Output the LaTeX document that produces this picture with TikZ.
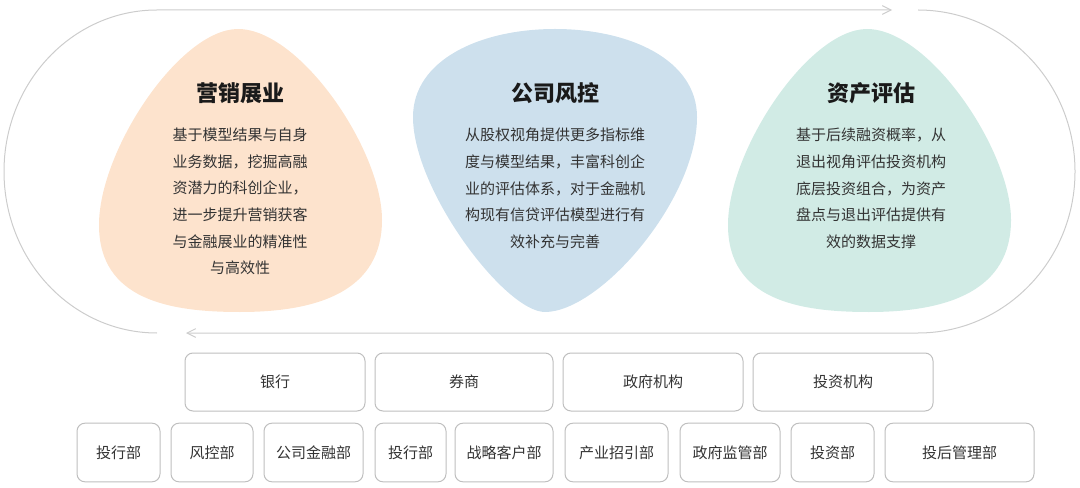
\documentclass[tikz,border=0pt]{standalone}
\usepackage{fontspec}
\newfontfamily\cjk{Noto Sans CJK SC}
\usetikzlibrary{arrows.meta}

\tikzset{
  loopline/.style={draw={rgb,255:red,204;green,204;blue,204}, line width=0.75pt},
  looptip/.style={-{Straight Barb[length=6.5pt,width=6.5pt]}},
  blobtitle/.style={inner sep=0pt, text={rgb,255:red,26;green,26;blue,26}, font=\cjk\bfseries\fontsize{16.5}{20}\selectfont},
  blobtext/.style={inner sep=0pt, align=center, text={rgb,255:red,51;green,51;blue,51}, font=\cjk\fontsize{11.25}{20}\selectfont},
  orgbox/.style={draw={rgb,255:red,191;green,191;blue,191}, line width=0.75pt, rounded corners=6pt, inner sep=0pt, text={rgb,255:red,51;green,51;blue,51}, font=\cjk\fontsize{11.25}{14}\selectfont},
}

\begin{document}
\begin{tikzpicture}[x=0.75pt,y=0.75pt,yscale=-1,xscale=1]
\useasboundingbox (0,0) rectangle (1080,488);

%Shape: Blob [id:orange]
\fill [fill={rgb,255:red,253;green,227;blue,205}] (238,29) .. controls (180,29) and (99,150) .. (99,225) .. controls (99,300) and (170,312) .. (240,312) .. controls (320,312) and (382,290) .. (382,220) .. controls (382,150) and (300,29) .. (238,29) -- cycle ;
%Shape: Blob [id:blue]
\fill [fill={rgb,255:red,205;green,224;blue,237}] (555,29) .. controls (630,29) and (697,60) .. (697,117) .. controls (697,200) and (600,312) .. (545,312) .. controls (505,312) and (413,190) .. (413,117) .. controls (413,60) and (480,29) .. (555,29) -- cycle ;
%Shape: Blob [id:green]
\fill [fill={rgb,255:red,209;green,235;blue,229}] (867,29) .. controls (809,29) and (728,150) .. (728,225) .. controls (728,300) and (799,312) .. (869,312) .. controls (949,312) and (1011,290) .. (1011,220) .. controls (1011,150) and (929,29) .. (867,29) -- cycle ;

%Loop ends
\coordinate (lbot) at (157,333);
\coordinate (ltop) at (892,10);
\coordinate (rtop) at (918,10);
\coordinate (rbot) at (186,333);
%Curve Lines [id:loopleft]
\draw [loopline,looptip] (lbot) arc [start angle=90, end angle=270, x radius=153, y radius=161.5] -- (ltop) ;
%Curve Lines [id:loopright]
\draw [loopline,looptip] (rtop) arc [start angle=-90, end angle=90, x radius=157, y radius=161.5] -- (rbot) ;

% Text Node
\node [blobtitle] (t1) at (240,93) {营销展业};
% Text Node
\node [blobtitle] (t2) at (555,93) {公司风控};
% Text Node
\node [blobtitle] (t3) at (871,93) {资产评估};
% Text Node
\node [blobtext] (b1) at (240,201.5) {基于模型结果与自身\\业务数据，挖掘高融\\资潜力的科创企业，\\进一步提升营销获客\\与金融展业的精准性\\与高效性};
% Text Node
\node [blobtext] (b2) at (555,188.5) {从股权视角提供更多指标维\\度与模型结果，丰富科创企\\业的评估体系，对于金融机\\构现有信贷评估模型进行有\\效补充与完善};
% Text Node
\node [blobtext] (b3) at (871,188.5) {基于后续融资概率，从\\退出视角评估投资机构\\底层投资组合，为资产\\盘点与退出评估提供有\\效的数据支撑};

%Rounded Rect row 1
\node [orgbox, minimum width=135pt, minimum height=43.5pt] (bank) at (275,382) {银行};
\node [orgbox, minimum width=133.5pt, minimum height=43.5pt] (broker) at (464,382) {券商};
\node [orgbox, minimum width=135pt, minimum height=43.5pt] (gov) at (653,382) {政府机构};
\node [orgbox, minimum width=135pt, minimum height=43.5pt] (inv) at (843,382) {投资机构};

%Rounded Rect row 2
\node [orgbox, minimum width=62.25pt, minimum height=44pt] (bankib) at (118.5,452.5) {投行部};
\node [orgbox, minimum width=61.5pt, minimum height=44pt] (bankrisk) at (212,452.5) {风控部};
\node [orgbox, minimum width=74.25pt, minimum height=44pt] (bankcorp) at (313.5,452.5) {公司金融部};
\node [orgbox, minimum width=53.25pt, minimum height=44pt] (brokerib) at (410.5,452.5) {投行部};
\node [orgbox, minimum width=73.5pt, minimum height=44pt] (brokerkey) at (504,452.5) {战略客户部};
\node [orgbox, minimum width=77.25pt, minimum height=44pt] (govind) at (616.5,452.5) {产业招引部};
\node [orgbox, minimum width=75pt, minimum height=44pt] (govsup) at (730,452.5) {政府监管部};
\node [orgbox, minimum width=62.25pt, minimum height=44pt] (invdept) at (832.5,452.5) {投资部};
\node [orgbox, minimum width=111.75pt, minimum height=44pt] (invpost) at (959.5,452.5) {投后管理部};
\end{tikzpicture}
\end{document}
